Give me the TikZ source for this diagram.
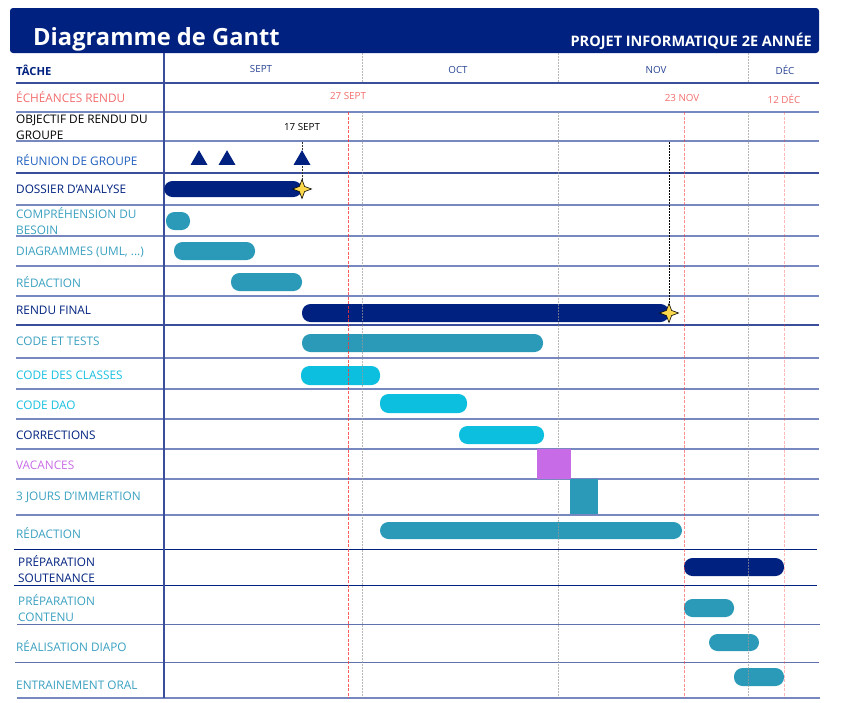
\documentclass[tikz,border=0pt]{standalone}
\usepackage{fontspec}
\setmainfont{Open Sans}
\usetikzlibrary{shapes.geometric}

\definecolor{navy}{HTML}{00217F}
\definecolor{teal}{HTML}{2A9AB8}
\definecolor{cyanbar}{HTML}{0DBFDF}
\definecolor{violet}{HTML}{C86BE6}
\definecolor{duered}{HTML}{F26D6D}
\definecolor{rowblue}{HTML}{7787BF}
\definecolor{darkrow}{HTML}{3A4E9C}
\definecolor{labelblue}{HTML}{1F5FBF}
\definecolor{tealtext}{HTML}{3AA0C0}
\definecolor{cyantext}{HTML}{18C0E0}
\definecolor{staryellow}{HTML}{FCD84C}

\begin{document}
\begin{tikzpicture}[x=1pt,y=-1pt,
  task/.style={anchor=west,inner sep=0pt,align=left,
               font=\fontsize{11.8}{16}\selectfont},
  month/.style={inner sep=0pt,font=\fontsize{9.8}{11}\selectfont,text=navy!85},
  due/.style={inner sep=0pt,font=\fontsize{9.8}{11}\selectfont,text=duered},
  rowline/.style={draw=rowblue,line width=1.4pt},
  darkline/.style={draw=darkrow,line width=1.1pt},
  monthline/.style={draw=gray!80,line width=0.9pt,dash pattern=on 2pt off 1pt},
  dueline/.style={draw=red!80,line width=0.9pt,dash pattern=on 3pt off 1.5pt},
  bar/.style={rounded corners=8.5pt},
  meet/.style={regular polygon,regular polygon sides=3,fill=navy,
               minimum size=19.6pt,inner sep=0pt},
  milestone/.style={star,star points=4,star point ratio=2.6,fill=staryellow,
                    draw=black,line width=0.6pt,minimum size=19pt,inner sep=0pt}
]
  \useasboundingbox (0,0) rectangle (850,702);

  % header band
  \fill[navy,rounded corners=3pt] (10,8) rectangle (819,53);
  \node[anchor=base west,inner sep=0pt,text=white,
        font=\fontsize{23.7}{26}\selectfont\bfseries] (title) at (33,45)
    {Diagramme de Gantt};
  \node[anchor=base east,inner sep=0pt,text=white,
        font=\fontsize{14.5}{16}\selectfont\bfseries] (subtitle) at (812,46)
    {PROJET INFORMATIQUE 2E ANNÉE};

  % grid
  \draw[darkline] (16,83) -- (819,83);
  \draw[rowblue,line width=2pt] (16,112) -- (819,112);
  \draw[rowblue,line width=2pt] (16,141) -- (819,141);
  \draw[darkline] (16,173) -- (819,173);
  \draw[rowblue,line width=2pt] (16,205) -- (819,205);
  \foreach \y in {236,266,296} \draw[rowline] (16,\y) -- (819,\y);
  \draw[darkline] (16,325) -- (819,325);
  \foreach \y in {358,389,419,449,479,515} \draw[rowline] (16,\y) -- (819,\y);
  \draw[draw=navy,line width=1pt] (14,549) -- (817,549);
  \draw[draw=navy,line width=1pt] (14,585) -- (817,585);
  \draw[draw=darkrow!80,line width=1pt] (17,624) -- (820,624);
  \draw[draw=darkrow!80,line width=1pt] (15,662) -- (819,662);
  \draw[rowblue,line width=2pt] (17,698) -- (820,698);
  \draw[draw=darkrow,line width=1.1pt] (164,53) -- (164,698);

  % months
  \node[month] (sept) at (261,69) {SEPT};
  \node[month] (oct)  at (458,70) {OCT};
  \node[month] (nov)  at (656,70) {NOV};
  \node[month] (dec)  at (785,70) {DÉC};

  % deadlines
  \node[due] (d1) at (348,96) {27 SEPT};
  \node[due] (d2) at (682,98) {23 NOV};
  \node[due] (d3) at (784,99) {12 DÉC};

  % task labels
  \node[task,text=navy,font=\fontsize{11.2}{14}\selectfont\bfseries] (t0) at (16,70) {TÂCHE};
  \node[task,text=duered] (t1) at (16,97) {ÉCHÉANCES RENDU};
  \node[task,text=black] (t2) at (16,127) {OBJECTIF DE RENDU DU\\GROUPE};
  \node[task,text=labelblue] (t3) at (16,160) {RÉUNION DE GROUPE};
  \node[task,text=navy] (t4) at (16,189) {DOSSIER D’ANALYSE};
  \node[task,text=tealtext] (t5) at (16,221) {COMPRÉHENSION DU\\BESOIN};
  \node[task,text=tealtext] (t6) at (16,252) {DIAGRAMMES (UML, ...)};
  \node[task,text=tealtext] (t7) at (16,282) {RÉDACTION};
  \node[task,text=navy] (t8) at (16,310) {RENDU FINAL};
  \node[task,text=tealtext] (t9) at (16,341) {CODE ET TESTS};
  \node[task,text=cyantext] (t10) at (16,375) {CODE DES CLASSES};
  \node[task,text=cyantext] (t11) at (16,405) {CODE DAO};
  \node[task,text=navy] (t12) at (16,435) {CORRECTIONS};
  \node[task,text=violet] (t13) at (16,465) {VACANCES};
  \node[task,text=tealtext] (t14) at (16,497) {3 JOURS D’IMMERTION};
  \node[task,text=tealtext] (t15) at (16,533) {RÉDACTION};
  \node[task,text=navy] (t16) at (18,569) {PRÉPARATION\\SOUTENANCE};
  \node[task,text=tealtext] (t17) at (18,608) {PRÉPARATION\\CONTENU};
  \node[task,text=tealtext] (t18) at (16,646) {RÉALISATION DIAPO};
  \node[task,text=tealtext] (t19) at (16,685) {ENTRAINEMENT ORAL};

  % bars
  \fill[navy,bar] (164,181) rectangle (302,197);
  \fill[teal,bar] (166,212) rectangle (190,230);
  \fill[teal,bar] (174,242) rectangle (255,260);
  \fill[teal,bar] (231,273) rectangle (302,291);
  \fill[navy,bar] (302,304) rectangle (669,322);
  \fill[teal,bar] (302,334) rectangle (543,352);
  \fill[cyanbar,bar] (301,366) rectangle (380,385);
  \fill[cyanbar,bar] (380,394) rectangle (467,413);
  \fill[cyanbar,bar] (459,426) rectangle (544,444);
  \fill[teal] (570,479) rectangle (598,514);
  \fill[teal,bar] (380,522) rectangle (682,539);
  \fill[navy,bar] (684,558) rectangle (784,576);
  \fill[teal,bar] (684,599) rectangle (734,617);
  \fill[teal,bar] (709,634) rectangle (759,651);
  \fill[teal,bar] (734,668) rectangle (784,686);

  % month and deadline lines
  \foreach \x in {362,558,748} {
    \draw[monthline,opacity=0.7] (\x,53) -- (\x,83);
    \draw[monthline,opacity=0.7] (\x,112) -- (\x,698);
  }
  \draw[dueline,opacity=0.8] (348,112) -- (348,698);
  \draw[dueline,opacity=0.55] (684,112) -- (684,698);
  \draw[dueline,opacity=0.35] (784,112) -- (784,698);

  \fill[violet] (537,449) rectangle (571,479);

  % milestones
  \coordinate (goal1) at (302,142);
  \coordinate (goal2) at (669,142);
  \node[inner sep=0pt,font=\fontsize{9.8}{11}\selectfont] (obj) at (302,127) {17 SEPT};
  \draw[black!80,line width=0.9pt,dash pattern=on 2pt off 1pt] (goal1) -- (302,189);
  \draw[black,line width=0.9pt,dash pattern=on 2pt off 1pt] (goal2) -- (669,313);
  \node[meet] (m1) at (199,160) {};
  \node[meet] (m2) at (227,160) {};
  \node[meet] (m3) at (302,160) {};
  \node[milestone] (s1) at (302,189) {};
  \node[milestone] (s2) at (669,313) {};
\end{tikzpicture}
\end{document}
